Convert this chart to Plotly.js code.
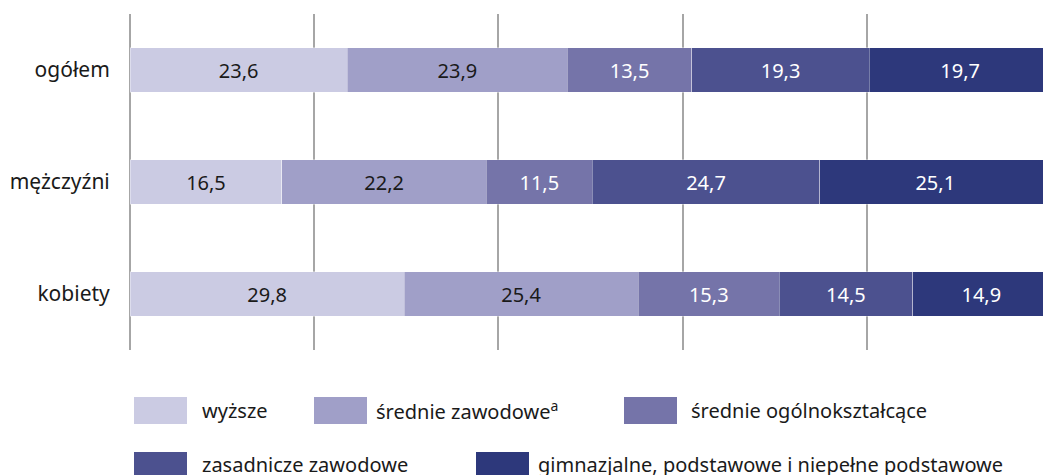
<!DOCTYPE html>
<html>
<head>
<meta charset="utf-8">
<script src="https://cdn.plot.ly/plotly-3.0.1.min.js"></script>
<style>html,body{margin:0;padding:0;background:#fff;overflow:hidden;}</style>
</head>
<body>
<div id="chart" style="width:1043px;height:475px;"></div>
<script>
const categories = ["ogółem", "mężczyźni", "kobiety"];
const seriesNames = ["wyższe", "średnie zawodowe<sup>a</sup>", "średnie ogólnokształcące", "zasadnicze zawodowe", "gimnazjalne, podstawowe i niepełne podstawowe"];
const wyzsze = [23.6, 16.5, 29.8];
const srednieZawodowe = [23.9, 22.2, 25.4];
const srednieOgolne = [13.5, 11.5, 15.3];
const zasadnicze = [19.3, 24.7, 14.5];
const gimnazjalne = [19.7, 25.1, 14.9];
const seriesValues = [wyzsze, srednieZawodowe, srednieOgolne, zasadnicze, gimnazjalne];
const colors = ["#cbcbe3", "#a09fc8", "#7574a9", "#4c518f", "#2d387b"];
const textColors = ["#1a1a1a", "#1a1a1a", "#ffffff", "#ffffff", "#ffffff"];

const FONT = "Noto Sans, sans-serif";
const W = 1043, H = 475;
const M = {l: 130, r: 0, t: 14, b: 125};
const PW = W - M.l - M.r, PH = H - M.t - M.b;
const px = x => (x - M.l) / PW;
const py = y => (H - M.b - y) / PH;

const traces = seriesValues.map((vals, i) => ({
  type: "bar",
  orientation: "h",
  name: seriesNames[i],
  y: categories,
  x: vals,
  text: vals.map(v => v.toFixed(1).replace(".", ",")),
  textposition: "inside",
  insidetextanchor: "middle",
  textangle: 0,
  textfont: {family: FONT, size: 20, color: textColors[i]},
  marker: {color: colors[i], line: {color: "rgba(255,255,255,0.35)", width: 1}},
  hoverinfo: "none",
  showlegend: false
}));

// custom legend
const legendItems = [
  {sx: 134, sy: 397, tx: 200, ty: 410},
  {sx: 314, sy: 397, tx: 374, ty: 410},
  {sx: 624, sy: 397, tx: 689, ty: 410},
  {sx: 134, sy: 452, tx: 200, ty: 464},
  {sx: 476, sy: 452, tx: 536, ty: 464}
];
const shapes = legendItems.map((it, i) => ({
  type: "rect", xref: "paper", yref: "paper",
  x0: px(it.sx), x1: px(it.sx + 53), y0: py(it.sy + 27), y1: py(it.sy),
  fillcolor: colors[i], line: {width: 0}
}));
const annotations = legendItems.map((it, i) => ({
  xref: "paper", yref: "paper", x: px(it.tx), y: py(it.ty),
  xanchor: "left", yanchor: "middle", showarrow: false,
  text: seriesNames[i], font: {family: FONT, size: 20, color: "#1a1a1a"}
}));

const layout = {
  width: W, height: H,
  margin: M,
  barmode: "stack",
  bargap: 0.6,
  paper_bgcolor: "#ffffff",
  plot_bgcolor: "#ffffff",
  showlegend: false,
  xaxis: {
    range: [0, 99.15], dtick: 20, tick0: 0,
    showgrid: true, gridcolor: "#a6a6a6", gridwidth: 2,
    zeroline: true, zerolinecolor: "#a6a6a6", zerolinewidth: 2,
    showticklabels: false, ticks: "", fixedrange: true
  },
  yaxis: {
    type: "category", autorange: "reversed",
    showgrid: false, zeroline: false, showline: false,
    ticks: "outside", ticklen: 15, tickcolor: "rgba(0,0,0,0)",
    tickfont: {family: FONT, size: 21, color: "#1a1a1a"}, fixedrange: true
  },
  shapes: shapes,
  annotations: annotations
};

Plotly.newPlot("chart", traces, layout, {displayModeBar: false, staticPlot: true});
</script>
</body>
</html>
